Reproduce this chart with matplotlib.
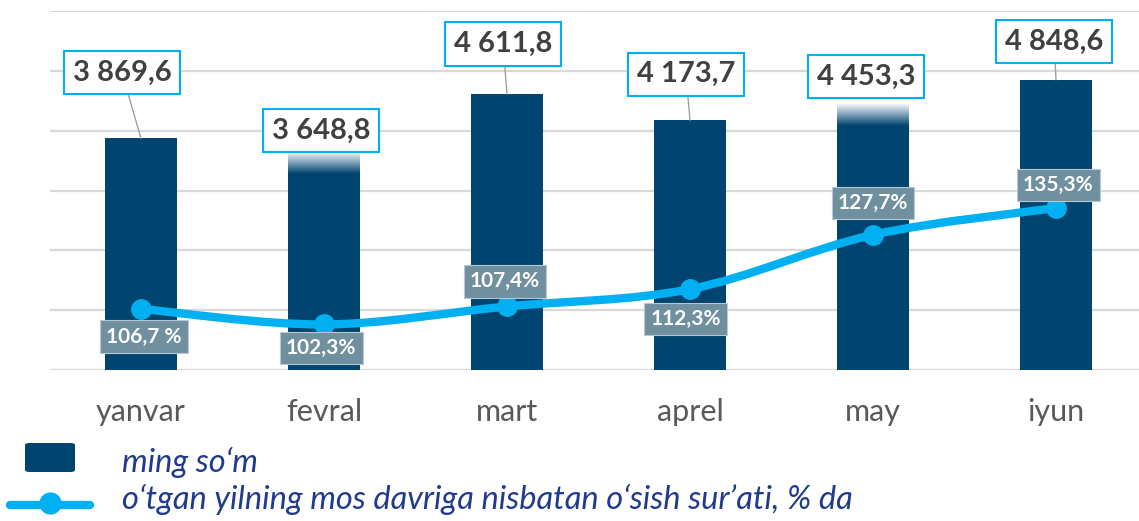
import numpy as np
import matplotlib
matplotlib.use('Agg')
import matplotlib.pyplot as plt
from matplotlib.path import Path
from matplotlib.patches import PathPatch, FancyBboxPatch
from matplotlib.lines import Line2D

# 데이터
months = ['yanvar', 'fevral', 'mart', 'aprel', 'may', 'iyun']
wage = [3869.6, 3648.8, 4611.8, 4173.7, 4453.3, 4848.6]
wage_labels = ['3 869,6', '3 648,8', '4 611,8', '4 173,7', '4 453,3', '4 848,6']
growth = [106.7, 102.3, 107.4, 112.3, 127.7, 135.3]
growth_labels = ['106,7 %', '102,3%', '107,4%', '112,3%', '127,7%', '135,3%']
legend_labels = ['ming so‘m', 'o‘tgan yilning mos davriga nisbatan o‘sish sur’ati, % da']

# 라벨 위치 (points 단위 offset)
wage_offsets = [(-13.7, 47.5), (-2.2, 15.1), (-2.9, 36), (-2.9, 33.1), (-5, 19.4), (-1.4, 27.5)]
growth_offsets = [(2, -20), (-2, -17), (-1.5, 18), (-3, -21.6), (0, 23), (1.5, 16.6)]

NAVY = '#004470'
CYAN = '#00B0F0'
GRID = '#D9D9D9'

plt.rcParams['font.family'] = ['Lato', 'DejaVu Sans']

W, H = 1139, 521
fig = plt.figure(figsize=(W / 100, H / 100), dpi=100)
ax = fig.add_axes([49.5 / W, 1 - 370 / H, 1098 / W, 359 / H])

x = np.arange(len(months))
bw = 0.39
ax.bar(x, wage, width=bw, color=NAVY, zorder=2)

# 막대 값 라벨
for i in range(len(x)):
    dx, dy = wage_offsets[i]
    covered = dy < 22  # 라벨 박스가 막대 위를 덮는 경우
    ax.annotate(wage_labels[i], xy=(x[i], wage[i]), xytext=(dx, dy),
                textcoords='offset points', ha='center', va='center',
                fontsize=21, fontweight='bold', color='#404040', zorder=6,
                bbox=dict(boxstyle='square,pad=0.3', fc='white', ec=CYAN, lw=1.5),
                arrowprops=None if covered else dict(arrowstyle='-', color='#A0A0A0', lw=1,
                                                     shrinkA=0, shrinkB=0))
    if covered:
        # 라벨 아래 막대 윗부분 흐림 효과
        rgba = np.ones((50, 1, 4))
        rgba[:, 0, 3] = np.linspace(1, 0, 50)
        ax.imshow(rgba, extent=(x[i] - bw / 2, x[i] + bw / 2, wage[i] - 380, wage[i]),
                  aspect='auto', origin='upper', zorder=3)

# 성장률 (보조축)
ax2 = ax.twinx()
ax2.set_ylim(89.4, 191.1)
ax2.set_axis_off()

ax.set_xlim(-0.5, 5.5)
ax.set_ylim(0, 6000)
ax.set_yticks(range(0, 6001, 1000))
ax.yaxis.grid(True, color=GRID, lw=1.6)
ax.set_axisbelow(True)
for s in ax.spines.values():
    s.set_visible(False)
ax.tick_params(axis='y', left=False, right=False, labelleft=False, labelright=False)
ax.tick_params(axis='x', length=0, pad=20, labelsize=22, labelcolor='#595959')
ax.set_xticks(x)
ax.set_xticklabels(months)

pts = np.column_stack([x, growth]).astype(float)
verts = [pts[0]]
codes = [Path.MOVETO]
n = len(pts)
for i in range(n - 1):
    p0 = pts[i - 1] if i > 0 else pts[i]
    p1, p2 = pts[i], pts[i + 1]
    p3 = pts[i + 2] if i + 2 < n else pts[i + 1]
    c1 = p1 + (p2 - p0) / 6
    c2 = p2 - (p3 - p1) / 6
    verts += [c1, c2, p2]
    codes += [Path.CURVE4] * 3
ax2.add_patch(PathPatch(Path(verts, codes), fc='none', ec=CYAN, lw=6,
                        capstyle='round', joinstyle='round', zorder=4))
ax2.plot(x, growth, 'o', ms=14, color=CYAN, zorder=5)

for i in range(len(x)):
    dx, dy = growth_offsets[i]
    ax2.annotate(growth_labels[i], xy=(x[i], growth[i]), xytext=(dx, dy),
                 textcoords='offset points', ha='center', va='center',
                 fontsize=15, fontweight='bold', color='white', zorder=7,
                 bbox=dict(boxstyle='square,pad=0.3', fc='#7090A0', ec='#B8C8D0', lw=0.8))

# 범례
fig.patches.append(FancyBboxPatch((25 / W, 1 - 472 / H), 50 / W, 29 / H,
                                  boxstyle='round,pad=0,rounding_size=0.004',
                                  transform=fig.transFigure, fc=NAVY, ec='none'))
fig.lines.append(Line2D([10 / W, 90 / W], [1 - 505 / H] * 2, transform=fig.transFigure,
                        color=CYAN, lw=6, solid_capstyle='round'))
fig.lines.append(Line2D([50 / W], [1 - 503 / H], transform=fig.transFigure,
                        marker='o', ms=15, color=CYAN))
fig.text(122 / W, 1 - 462 / H, legend_labels[0], fontsize=23.5, style='italic',
         color='#203B8C', va='center')
fig.text(122 / W, 1 - 499 / H, legend_labels[1], fontsize=23.5, style='italic',
         color='#203B8C', va='center')

fig.savefig('out.png', dpi=100)
